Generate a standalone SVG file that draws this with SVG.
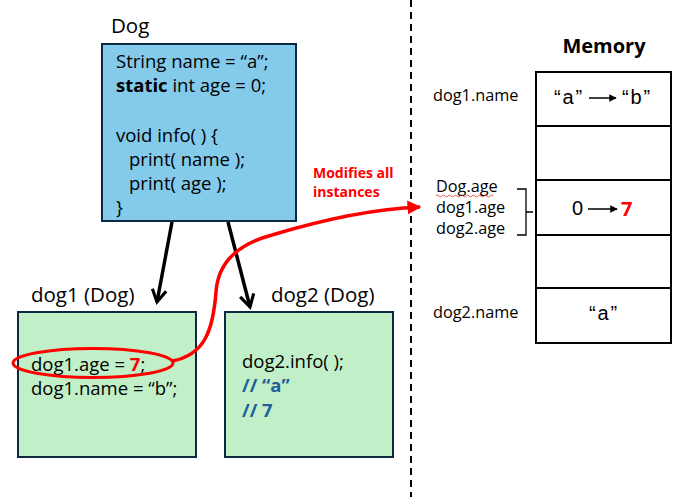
<svg xmlns="http://www.w3.org/2000/svg" width="677" height="497" viewBox="0 0 677 497">
<defs>
<style>
text{font-family:"Open Sans","Liberation Sans",Arial,sans-serif;fill:#000}
.code{font-size:18.5px}
.title{font-size:20.5px}
.lbl{font-size:16.3px}
.cell{font-family:"Liberation Sans",Arial,sans-serif;font-size:20px}
.q{letter-spacing:1.8px}
.box{stroke:#0E2841;stroke-width:2}
.mem{fill:#fff;stroke:#000;stroke-width:2}
.blue{fill:#215F9A;font-weight:bold}
.red{fill:#FF0000;font-weight:bold}
</style>
<marker id="chev" viewBox="0 0 10 10" refX="8" refY="5" markerWidth="5" markerHeight="5" orient="auto" markerUnits="strokeWidth">
<path d="M1,1 L8,5 L1,9" fill="none" stroke="#000" stroke-width="1.8"/>
</marker>
<marker id="redtri" viewBox="0 0 10 10" refX="9" refY="5" markerWidth="4" markerHeight="4" orient="auto" markerUnits="strokeWidth">
<path d="M0,0 L10,5 L0,10 Z" fill="#FF0000"/>
</marker>
<marker id="smalltri" viewBox="0 0 10 10" refX="9" refY="5" markerWidth="5" markerHeight="5" orient="auto" markerUnits="strokeWidth">
<path d="M0,0 L10,5 L0,10 Z" fill="#000"/>
</marker>
</defs>
<rect width="677" height="497" fill="#fff"/>

<g id="divider">
<line x1="411" y1="0" x2="411" y2="497" stroke="#000" stroke-width="2" stroke-dasharray="7,5"/>
</g>

<g id="dog-class">
<text x="111" y="33" class="title">Dog</text>
<rect x="102" y="44" width="194" height="177" fill="#83CAEB" class="box"/>
<text x="116" y="68" class="code">String name = “a”;</text>
<text x="116" y="92" class="code"><tspan font-weight="bold">static</tspan> int age = 0;</text>
<text x="116" y="142" class="code">void info( ) {</text>
<text x="129" y="166" class="code">print( name );</text>
<text x="129" y="190" class="code">print( age );</text>
<text x="116" y="214" class="code">}</text>
</g>

<g id="dog1">
<text x="31" y="302" class="title">dog1 (Dog)</text>
<rect x="18" y="312" width="178" height="145" fill="#C1F0C8" class="box"/>
<text x="31" y="371" class="code">dog1.age = <tspan class="red">7</tspan>;</text>
<text x="31" y="395" class="code">dog1.name = “b”;</text>
</g>

<g id="dog2">
<text x="271" y="302" class="title">dog2 (Dog)</text>
<rect x="225" y="312" width="168" height="145" fill="#C1F0C8" class="box"/>
<text x="242" y="368" class="code">dog2.info( );</text>
<text x="242" y="392" class="code blue">// “a”</text>
<text x="242" y="417" class="code blue">// 7</text>
</g>

<g id="memory">
<text x="604" y="53" font-size="20" font-weight="bold" text-anchor="middle">Memory</text>
<rect x="536" y="72" width="135" height="54" class="mem"/>
<rect x="536" y="126" width="135" height="54" class="mem"/>
<rect x="536" y="180" width="135" height="55" class="mem"/>
<rect x="536" y="235" width="135" height="53" class="mem"/>
<rect x="536" y="288" width="135" height="55" class="mem"/>
<text x="554" y="104" class="cell q">“a”</text>
<line x1="589" y1="98" x2="616" y2="98" stroke="#000" stroke-width="1.5" marker-end="url(#smalltri)"/>
<text x="622" y="104" class="cell q">“b”</text>
<text x="572" y="215" class="cell">0</text>
<line x1="588" y1="209" x2="617" y2="209" stroke="#000" stroke-width="1.5" marker-end="url(#smalltri)"/>
<text x="621" y="216" font-size="20" class="red">7</text>
<text x="589" y="320" class="cell q">“a”</text>
</g>

<g id="memory-labels">
<text x="433" y="101" class="lbl">dog1.name</text>
<text x="436" y="192" class="lbl">Dog.age</text>
<path d="M436,196 q1.5,-2 3,0 t3,0 t3,0 t3,0 t3,0 t3,0 t3,0 t3,0 t3,0 t3,0 t3,0 t3,0 t3,0 t3,0 t3,0 t3,0 t3,0 t3,0 t3,0" fill="none" stroke="#E03030" stroke-width="0.8"/>
<text x="436" y="213" class="lbl">dog1.age</text>
<text x="436" y="234" class="lbl">dog2.age</text>
<path d="M517,189 L526,189 L526,235 L517,235 M526,212 L533,212" fill="none" stroke="#000" stroke-width="1.3"/>
<text x="433" y="318" class="lbl">dog2.name</text>
</g>

<g id="note">
<text x="313" y="178" font-size="14" class="red">Modifies all</text>
<text x="313" y="197" font-size="14" class="red">instances</text>
</g>

<g id="connectors" fill="none">
<line x1="172" y1="222" x2="157" y2="302" stroke="#000" stroke-width="3.5" marker-end="url(#chev)"/>
<line x1="228" y1="222" x2="250" y2="307" stroke="#000" stroke-width="3.5" marker-end="url(#chev)"/>
<ellipse cx="93" cy="363" rx="80" ry="14.5" stroke="#FF0000" stroke-width="3"/>
<path d="M172,361 C205,355 213,330 216,292 C218,262 238,244 272,235 C315,222 370,209 420,207" stroke="#FF0000" stroke-width="3.5" marker-end="url(#redtri)"/>
</g>
</svg>
